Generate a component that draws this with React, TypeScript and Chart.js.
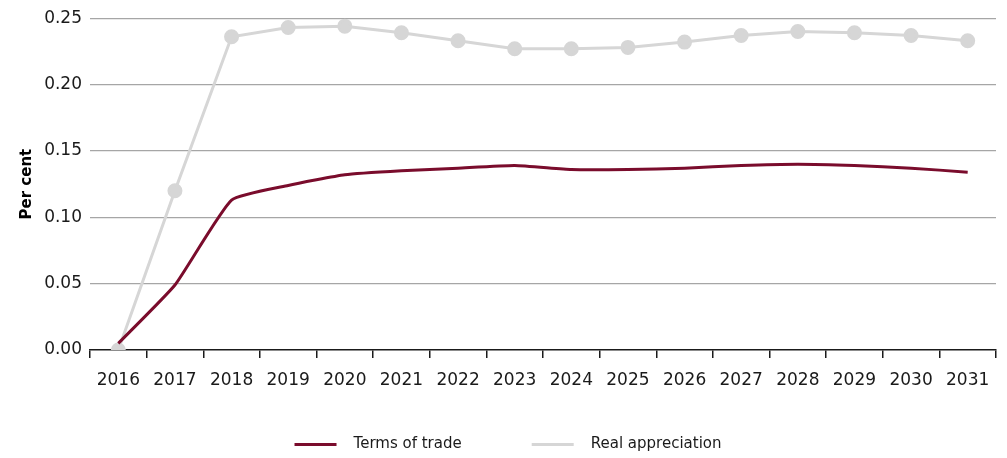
import React, { useEffect, useRef } from "react";
import { Chart, registerables } from "chart.js";

Chart.register(...registerables);

const years = ["2016","2017","2018","2019","2020","2021","2022","2023","2024","2025","2026","2027","2028","2029","2030","2031"];
const termsOfTrade = [0.005,0.049,0.113,0.124,0.132,0.135,0.137,0.139,0.136,0.136,0.137,0.139,0.140,0.139,0.137,0.134];
const realAppreciation = [0.0,0.12,0.236,0.243,0.244,0.239,0.233,0.227,0.227,0.228,0.232,0.237,0.240,0.239,0.237,0.233];
const yTicks = [0, 0.05, 0.1, 0.15, 0.2, 0.25];

const RED = "#7a0c2c";
const GREY = "#d6d6d6";
const FONT = "'DejaVu Sans', Verdana, sans-serif";

export default function App() {
  const ref = useRef<HTMLCanvasElement | null>(null);
  useEffect(() => {
    if (!ref.current) return;
    const chart = new Chart(ref.current, {
      type: "line",
      data: {
        labels: years,
        datasets: [
          {
            label: "Terms of trade",
            data: termsOfTrade,
            borderColor: RED,
            backgroundColor: RED,
            borderWidth: 3,
            pointRadius: 0,
            tension: 0.15,
          },
          {
            label: "Real appreciation",
            data: realAppreciation,
            borderColor: GREY,
            backgroundColor: GREY,
            borderWidth: 3,
            pointRadius: 6,
            pointBackgroundColor: GREY,
            pointBorderColor: GREY,
            tension: 0,
          },
        ],
      },
      options: {
        animation: false,
        responsive: true,
        maintainAspectRatio: false,
        layout: { padding: { top: 10, right: 11, left: 20, bottom: -4 } },
        plugins: {
          tooltip: { enabled: false },
          legend: {
            position: "bottom",
            labels: {
              boxWidth: 42,
              boxHeight: 3,
              padding: 8,
              color: "#1a1a1a",
              font: { family: FONT, size: 15 },
              generateLabels: (c: any) =>
                c.data.datasets.map((d: any, i: number) => ({
                  text: i === 0 ? "  " + d.label + "             " : "  " + d.label,
                  fillStyle: d.borderColor,
                  strokeStyle: d.borderColor,
                  lineWidth: 0,
                  hidden: false,
                  datasetIndex: i,
                  fontColor: "#1a1a1a",
                })),
            },
          },
        },
        scales: {
          x: {
            offset: true,
            afterFit: (axis: any) => { axis.height = 79; },
            grid: {
              offset: true,
              drawOnChartArea: false,
              drawTicks: true,
              tickLength: 8,
              color: "#1a1a1a",
              lineWidth: 1.5,
            },
            border: { display: true, color: "#1a1a1a", width: 1.5 },
            ticks: {
              color: "#1a1a1a",
              font: { family: FONT, size: 17 },
              padding: 12,
              maxRotation: 0,
              autoSkip: false,
            },
          },
          y: {
            min: 0,
            max: 0.25,
            afterFit: (axis: any) => { axis.width = 70; },
            afterBuildTicks: (axis: any) => { axis.ticks = yTicks.map((v) => ({ value: v })); },
            grid: {
              drawTicks: false,
              color: (ctx: any) => (ctx.tick && ctx.tick.value === 0 ? "rgba(0,0,0,0)" : "#a6a6a6"),
              lineWidth: 1.2,
            },
            border: { display: false },
            title: {
              display: true,
              text: "Per cent",
              color: "#000",
              font: { family: FONT, size: 15, weight: "bold" },
              padding: { top: -2, bottom: 0 },
            },
            ticks: {
              color: "#1a1a1a",
              font: { family: FONT, size: 17 },
              padding: 8,
              callback: (v: any) => Number(v).toFixed(2),
            },
          },
        },
      },
    });
    return () => chart.destroy();
  }, []);
  return (
    <div style={{ position: "fixed", left: 0, top: 0, width: 1007, height: 458, background: "#fff" }}>
      <canvas ref={ref} />
    </div>
  );
}
